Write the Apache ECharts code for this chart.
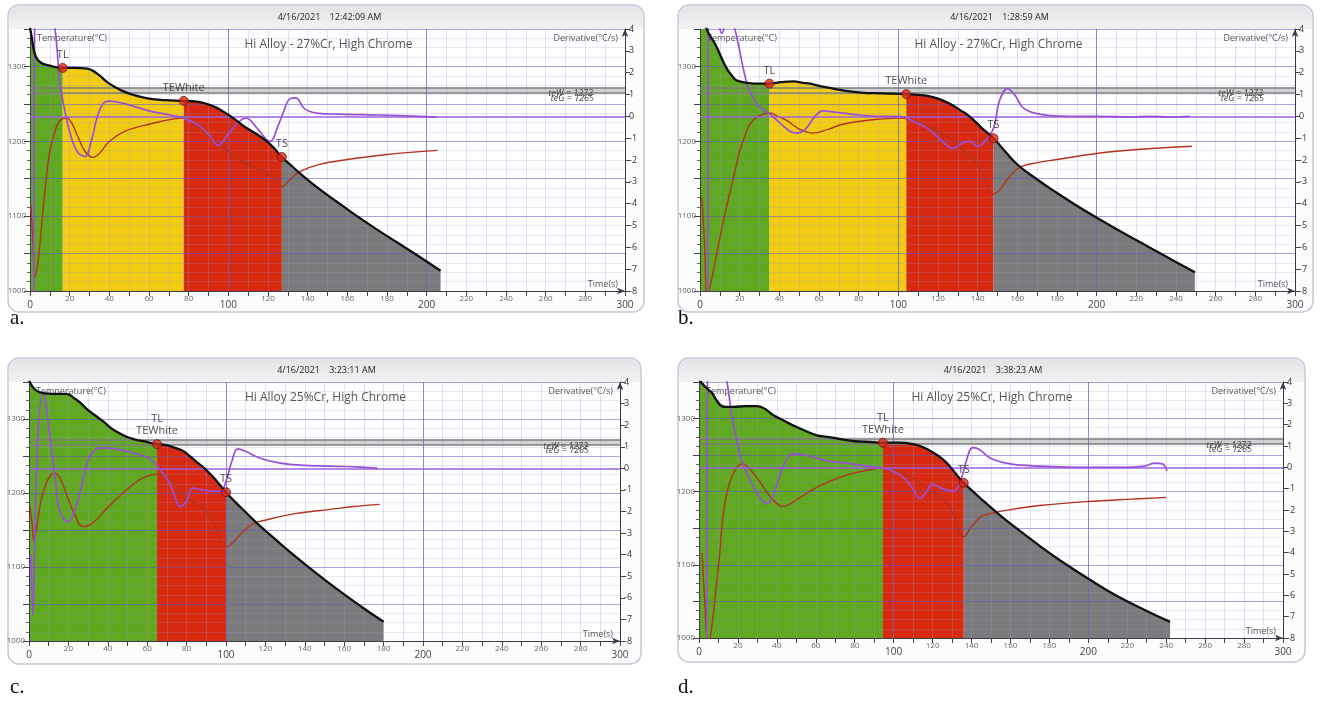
<!DOCTYPE html>
<html><head><meta charset="utf-8">
<script src="https://cdn.jsdelivr.net/npm/echarts@6/dist/echarts.min.js"></script>
<style>html,body{margin:0;padding:0;background:#fff}#c{width:1322px;height:703px}</style>
</head><body><div id="c"></div>
<script>
// ---------------- DATA ----------------
// Panel a
const aTitle = 'Hi Alloy - 27%Cr, High Chrome';
const aStamp = '4/16/2021    12:42:09 AM';
const aTime = [0,1,2,3,4.5,7,10,13,16.5,22,29,34,40,46,52,60,68,77.5,84,89,94,99,104,109,114,119,123,127,132,137,143,150,158,166,175,185,195,207];
const aTemp = [1352,1337,1321,1313,1307,1303,1301,1299,1298,1298,1297,1290,1277,1268,1262,1257,1255,1254,1253,1250,1245,1237,1228,1218,1210,1201,1191,1179,1167,1155,1142,1128,1113,1098,1082,1065,1048,1027];
const aDerT = [0,1.5,2.5,6,10,12.6,15,16.6,20,23.7,27.7,31,34,37,40,48,60,70.5,77.5,85.6,90.7,94.7,100,106,109,115,121,125,128,131,134,138.5,144.6,156,176,196.5,205];
const aDerV = [-9,-9,5,6,5,4,1.6,0.7,-0.7,-1.6,-1.84,-1.1,0,0.6,0.7,0.57,0.25,0.06,-0.08,-0.45,-0.9,-1.33,-0.8,-0.2,-0.08,-0.6,-1.15,-0.45,0.25,0.8,0.85,0.34,0.15,0.1,0.06,0,-0.03];
const aD2T = [0.5,1.5,2.5,4,6,8,10,12.6,15,18.6,21,24,27.7,31.7,35,40,48,60,77.5,85.6,93,100,110,118,123.4,127,131,136,146,160,180,205.5];
const aD2V = [-4.06,-5.78,-7.35,-6.7,-4.85,-3,-1.6,-0.68,-0.2,-0.08,-0.3,-0.9,-1.6,-1.88,-1.7,-1.15,-0.68,-0.36,-0.08,-0.6,-1.15,-1.6,-2.2,-2.53,-2.9,-3.23,-2.9,-2.53,-2.2,-1.98,-1.75,-1.56];
const aEventNames = ['TL','TEWhite','TS'];
const aEventTimes = [16.5,77.5,127];
const aPhaseNames = ['liquid','austenite','eutectic','solid'];
const aPhaseEnds = [16.5,77.5,127,207];

// Panel b
const bTitle = 'Hi Alloy - 27%Cr, High Chrome';
const bStamp = '4/16/2021    1:28:59 AM';
const bTime = [0,3.5,5.5,7.6,9.6,11.6,14,16,18,20,24,27,35,41,47,52,55.5,60,64,72,81,92,104,110,114,120,126,131,136,142,148,154,160,170,180,190,200,211,222,235,249.5];
const bTemp = [1374,1349,1339,1330,1319,1307,1295,1288,1282,1280,1278,1277,1277,1279,1280,1278,1277,1274,1272,1268,1265,1264,1263,1262,1261,1257,1250,1242,1233,1218,1204,1186,1169,1149,1131,1114,1098,1081,1065,1046,1025];
const bDerT = [0,3.5,4.5,8,9,11,13,15,17.6,21.7,24,26.7,30,35.3,40.3,45.4,49,53,58,62,67,72,80.7,89,101,107,114.5,121,127.6,132,136,140,143.7,148,151,155,159,163,171,186.6,201.7,217,227,237,247];
const bDerV = [-9,-9,5,5,4.5,3.8,4.3,4.6,4,2.24,1.4,0.85,0.43,0.1,-0.3,-0.68,-0.77,-0.6,0,0.25,0.2,0.15,0.06,0,0,-0.2,-0.54,-1.05,-1.47,-1.24,-1.14,-1.38,-1.14,-0.54,0.71,1.27,0.94,0.39,0.1,0,0,-0.03,0,-0.03,0];
const bD2T = [1,2.5,3.5,5.5,7.6,10.6,13.6,17,20,22.7,25.2,29.2,35.3,39.3,43.9,50.4,57,64.5,72,85.7,101,111,122.5,131,138.7,143.7,147.8,151,156,161,170,180,200,222,248];
const bD2V = [-3.7,-6.24,-8.2,-7.6,-6.7,-5.3,-4.06,-2.77,-1.6,-0.9,-0.36,0,0.15,0,-0.2,-0.6,-0.77,-0.6,-0.36,-0.17,-0.08,-0.3,-0.82,-1.38,-2.07,-2.9,-3.55,-3.37,-2.77,-2.35,-2.12,-1.98,-1.7,-1.51,-1.37];
const bEventNames = ['TL','TEWhite','TS'];
const bEventTimes = [35,104,148];
const bPhaseNames = ['liquid','austenite','eutectic','solid'];
const bPhaseEnds = [35,104,148,249.5];

// Panel c
const cTitle = 'Hi Alloy 25%Cr, High Chrome';
const cStamp = '4/16/2021    3:23:11 AM';
const cTime = [0,1,2,4,7,12,19,23,26,30,34.5,38,41,45,49.5,54,58,65,69,73,78,82,86,90,95,100,105,110,115,120,130,140,150,160,170,180];
const cTemp = [1353,1347,1343,1338,1335,1334,1334,1328,1322,1312,1303,1296,1289,1282,1276,1272,1270,1266,1265,1262,1257,1249,1240,1231,1217,1201,1187,1174,1161,1149,1126,1104,1083,1063,1044,1026];
const cDerT = [1,2,3,4.6,7,10.7,13.2,15.7,19.8,23,26,28.4,31,36,43.7,52.8,61.4,65,69,71.6,74,76.6,80,83,88,93.4,97,100,103,106,109.6,117,127,137.6,152.8,168,177];
const cDerV = [-4,-6.8,-3,1.6,3.53,1.4,-0.45,-2,-2.47,-2,-1.06,-0.13,0.58,0.95,0.9,0.72,0.44,0.11,-0.36,-0.73,-1.3,-1.77,-1.53,-0.92,-1,-1.06,-1.06,-0.6,0.34,0.9,0.8,0.48,0.25,0.15,0.1,0.06,0];
const cD2T = [0.5,1.5,2.5,4,6,8.6,11,13,15.7,19,23,27.5,32,37,41,47,53,59,65,71,77,83,90,95,100,104,108.6,114,120.8,135,153,165,178];
const cD2V = [-1.77,-2.47,-3.4,-2.7,-1.53,-0.73,-0.31,-0.22,-0.45,-1.2,-2.1,-2.7,-2.56,-2.1,-1.72,-1.2,-0.73,-0.4,-0.27,-0.5,-1.06,-1.53,-2,-2.8,-3.64,-3.4,-2.94,-2.56,-2.38,-2.1,-1.9,-1.77,-1.67];
const cEventNames = ['TL\nTEWhite','TS'];
const cEventTimes = [65,100];
const cPhaseNames = ['liquid','eutectic','solid'];
const cPhaseEnds = [65,100,180];

// Panel d
const dTitle = 'Hi Alloy 25%Cr, High Chrome';
const dStamp = '4/16/2021    3:38:23 AM';
const dTime = [0,1,3,5,6.7,9,11.8,14,17.5,24,29.8,34,38,43,48,54,60.6,66,72.4,80,88,94.5,102,110,115,120,125,129,133,136,145,155,165,175,185,200,215,230,242];
const dTemp = [1355,1350,1344,1339,1335,1325,1317,1316,1316,1317,1317,1313,1305,1298,1291,1284,1277,1275,1272,1269,1268,1267,1267,1265,1261,1254,1245,1234,1221,1212,1190,1167,1146,1126,1107,1081,1057,1037,1022];
const dDerT = [0,3.5,4.5,8,12,14.4,17,19.5,22,26,29.8,35,37.5,40,44,48,54.4,65.7,76,86,94.5,99.6,106,110,113.5,117,120,125,130.5,134,137,140.7,144.3,149.5,160,175,201,216,229,234,238,240.4];
const dDerV = [-9,-9,5,6,5,4,2.34,1.25,0.3,-0.55,-1.2,-1.7,-1.46,-0.8,0.2,0.63,0.58,0.3,0.2,0.06,-0.03,-0.17,-0.55,-1.03,-1.46,-1.12,-0.8,-1,-1.12,-0.74,0.2,0.92,0.82,0.44,0.16,0.06,0,0,0.06,0.2,0.16,-0.17];
const dD2T = [1.5,3,4,5,6.5,8.5,10.5,12.3,14.5,17,20,22.6,26,31,36,40,43,47,52,57,65,74,84,94.5,102,110,118,125,130,136,140,145,149.5,160,175,200,220,240];
const dD2V = [-4,-6.34,-8,-8.2,-7.5,-5.87,-4.2,-2.3,-1.12,-0.41,0.06,0.16,-0.08,-0.65,-1.31,-1.7,-1.84,-1.7,-1.41,-1.12,-0.74,-0.41,-0.18,-0.03,-0.18,-0.51,-1.03,-1.46,-2.07,-3.26,-2.78,-2.3,-2.17,-1.98,-1.79,-1.6,-1.5,-1.41];
const dEventNames = ['TL\nTEWhite','TS'];
const dEventTimes = [94.5,136];
const dPhaseNames = ['liquid','eutectic','solid'];
const dPhaseEnds = [94.5,136,242];

// Reference lines (same in every panel)
const refNames = ['teW = 1272','teG = 1265'];
const refTemps = [1272,1265];

// ---------------- LAYOUT / STYLE ----------------
const FONT = '"Open Sans","Noto Sans",sans-serif';
const phaseColor = {liquid:'#5fa820', austenite:'#f1cc13', eutectic:'#d82a10', solid:'#7b7b7b'};
const panels = [
  {T:aTime,V:aTemp,dT:aDerT,dV:aDerV,sT:aD2T,sV:aD2V,evN:aEventNames,evT:aEventTimes,phN:aPhaseNames,phE:aPhaseEnds,title:aTitle,stamp:aStamp,letter:'a.',
   g:{left:30,top:29,width:595,height:262}, f:{x:8,y:5,w:636,h:307}, lx:10, ly:318},
  {T:bTime,V:bTemp,dT:bDerT,dV:bDerV,sT:bD2T,sV:bD2V,evN:bEventNames,evT:bEventTimes,phN:bPhaseNames,phE:bPhaseEnds,title:bTitle,stamp:bStamp,letter:'b.',
   g:{left:700,top:29,width:595,height:262}, f:{x:678,y:5,w:635,h:307}, lx:678, ly:318},
  {T:cTime,V:cTemp,dT:cDerT,dV:cDerV,sT:cD2T,sV:cD2V,evN:cEventNames,evT:cEventTimes,phN:cPhaseNames,phE:cPhaseEnds,title:cTitle,stamp:cStamp,letter:'c.',
   g:{left:29,top:382,width:591,height:259}, f:{x:8,y:358,w:633,h:306}, lx:10, ly:687},
  {T:dTime,V:dTemp,dT:dDerT,dV:dDerV,sT:dD2T,sV:dD2V,evN:dEventNames,evT:dEventTimes,phN:dPhaseNames,phE:dPhaseEnds,title:dTitle,stamp:dStamp,letter:'d.',
   g:{left:699,top:382,width:584,height:256}, f:{x:678,y:358,w:627,h:304}, lx:678, ly:687}
];

const pairs = (ts, vs) => ts.map((t, i) => [t, vs[i]]);

const grids = [], xAxes = [], yAxes = [], series = [], graphics = [];
const xColors = ['rgba(110,95,200,0.75)'].concat(Array(9).fill('rgba(150,150,215,0.28)'));

panels.forEach((p, i) => {
  grids.push(Object.assign({show:true, backgroundColor:'#ffffff', borderWidth:0}, p.g));
  xAxes.push({
    type:'value', gridIndex:i, min:0, max:300, interval:10, z:3,
    axisLine:{show:true, onZero:false, symbol:['none','arrow'], symbolSize:[5,8], lineStyle:{color:'#3a3a4a', width:1}},
    axisTick:{show:true, length:5, lineStyle:{color:'#444'}},
    axisLabel:{margin:4, formatter:v => v % 100 === 0 ? '{b|' + v + '}' : (v % 20 === 0 ? '{a|' + v + '}' : ''),
      rich:{a:{fontSize:8, color:'#666', fontFamily:FONT}, b:{fontSize:10, color:'#444', fontFamily:FONT, padding:[5,0,0,0]}}},
    splitLine:{show:true, lineStyle:{color:xColors, width:1}}
  });
  yAxes.push({
    type:'value', gridIndex:i, position:'left', min:1000, max:1350, interval:50, z:3,
    axisLine:{show:true, onZero:false, lineStyle:{color:'#3a3a4a', width:1}},
    axisTick:{show:true, length:6, lineStyle:{color:'#444'}},
    minorTick:{show:true, splitNumber:4, length:3, lineStyle:{color:'#666'}},
    axisLabel:{margin:4, fontSize:8, color:'#666', fontFamily:FONT, showMaxLabel:false,
      formatter:v => v % 100 === 0 ? String(v) : ''},
    splitLine:{show:true, lineStyle:{color:'rgba(95,85,200,0.55)', width:1}},
    minorSplitLine:{show:true, lineStyle:{color:'rgba(150,150,215,0.22)', width:1}}
  });
  yAxes.push({
    type:'value', gridIndex:i, position:'right', min:-8, max:4, interval:1, z:3,
    axisLine:{show:true, onZero:false, symbol:['none','arrow'], symbolSize:[5,8], lineStyle:{color:'#3a3a4a', width:1}},
    axisTick:{show:true, length:5, lineStyle:{color:'#444'}},
    axisLabel:{margin:4, fontSize:9, color:'#333', fontFamily:FONT},
    splitLine:{show:false}
  });
  const tY = 2 * i, dY = 2 * i + 1;
  const curve = pairs(p.T, p.V);
  let start = p.T[0];
  p.phN.forEach((name, k) => {
    const end = p.phE[k];
    const seg = curve.filter(q => q[0] >= start && q[0] <= end);
    series.push({type:'line', xAxisIndex:i, yAxisIndex:tY, data:seg, smooth:0.45, symbol:'none', silent:true, z:1,
      lineStyle:{width:0, color:phaseColor[name]}, areaStyle:{color:phaseColor[name], opacity:1, origin:'start'}});
    start = end;
  });
  series.push({type:'line', xAxisIndex:i, yAxisIndex:tY, data:curve, smooth:0.45, symbol:'none', z:6,
    lineStyle:{color:'#111', width:2.3},
    markArea:{silent:true, itemStyle:{color:'rgba(190,190,190,0.7)'}, data:[[{yAxis:refTemps[1]},{yAxis:refTemps[0]}]]},
    markLine:{silent:true, symbol:'none', lineStyle:{color:'#7c7c7c', width:1.5, type:'solid'},
      data:refTemps.map((v, k) => ({yAxis:v, label:{show:true, position:'insideEndBottom', formatter:refNames[k],
        fontSize:9, fontStyle:'italic', color:'#444', fontFamily:FONT, padding:[0, 30, 0, 0], distance:k ? 1 : 2}}))}
  });
  series.push({type:'line', xAxisIndex:i, yAxisIndex:dY, data:pairs(p.dT, p.dV), smooth:0.4, symbol:'none', z:5,
    lineStyle:{color:'#9a4fd8', width:1.7},
    markLine:{silent:true, symbol:'none', label:{show:false}, lineStyle:{color:'#9d62e0', width:1.5, type:'solid'}, data:[{yAxis:0}]}
  });
  series.push({type:'line', xAxisIndex:i, yAxisIndex:dY, data:pairs(p.sT, p.sV), smooth:0.4, symbol:'none', z:4,
    lineStyle:{color:'#b0341e', width:1.4}});
  series.push({type:'scatter', xAxisIndex:i, yAxisIndex:tY, z:8, symbolSize:9,
    data:p.evT.map((t, k) => ({name:p.evN[k], value:[t, p.V[p.T.indexOf(t)]]})),
    itemStyle:{color:'#d42a1c', borderColor:'#7a1208', borderWidth:1},
    label:{show:true, position:'top', distance:2, formatter:'{b}', fontSize:11, lineHeight:12, color:'#222', fontFamily:FONT}
  });

  const f = p.f, g = p.g;
  graphics.push({type:'rect', z:-10, shape:{x:f.x, y:f.y, width:f.w, height:f.h, r:11},
    style:{fill:'#fcfcfd', stroke:'#c3c9d8', lineWidth:1.5}});
  graphics.push({type:'rect', z:-9, shape:{x:f.x + 1, y:f.y + 1, width:f.w - 2, height:g.top - f.y - 1, r:[10,10,0,0]},
    style:{fill:new echarts.graphic.LinearGradient(0,0,0,1,[{offset:0,color:'#e4e4e7'},{offset:1,color:'#f2f2f3'}])}});
  graphics.push({type:'text', x:g.left + g.width / 2 + 2, y:f.y + 12, z:5,
    style:{text:p.stamp, font:'9px ' + FONT, fill:'#222', align:'center', textAlign:'center', verticalAlign:'middle', textVerticalAlign:'middle'}});
  graphics.push({type:'text', x:g.left + g.width / 2 + 1, y:g.top + 16, z:5,
    style:{text:p.title, font:'12px ' + FONT, fill:'#555', align:'center', textAlign:'center', verticalAlign:'middle', textVerticalAlign:'middle'}});
  graphics.push({type:'text', x:g.left + 7, y:g.top + 9, z:5,
    style:{text:'Temperature(°C)', font:'9px ' + FONT, fill:'#555', align:'left', textAlign:'left', verticalAlign:'middle', textVerticalAlign:'middle'}});
  graphics.push({type:'text', x:g.left + g.width - 7, y:g.top + 9, z:5,
    style:{text:'Derivative(°C/s)', font:'9px ' + FONT, fill:'#555', align:'right', textAlign:'right', verticalAlign:'middle', textVerticalAlign:'middle'}});
  graphics.push({type:'text', x:g.left + g.width - 7, y:g.top + g.height - 7, z:5,
    style:{text:'Time(s)', font:'9px ' + FONT, fill:'#555', align:'right', textAlign:'right', verticalAlign:'middle', textVerticalAlign:'middle'}});
  graphics.push({type:'text', x:p.lx, y:p.ly, z:5,
    style:{text:p.letter, font:'21px "Liberation Serif","DejaVu Serif",serif', fill:'#111', align:'left', textAlign:'left', verticalAlign:'middle', textVerticalAlign:'middle'}});
});

const chart = echarts.init(document.getElementById('c'), null, {renderer:'canvas'});
chart.setOption({
  animation:false,
  backgroundColor:'#ffffff',
  grid:grids, xAxis:xAxes, yAxis:yAxes, series:series,
  graphic:{elements:graphics}
});
</script></body></html>
